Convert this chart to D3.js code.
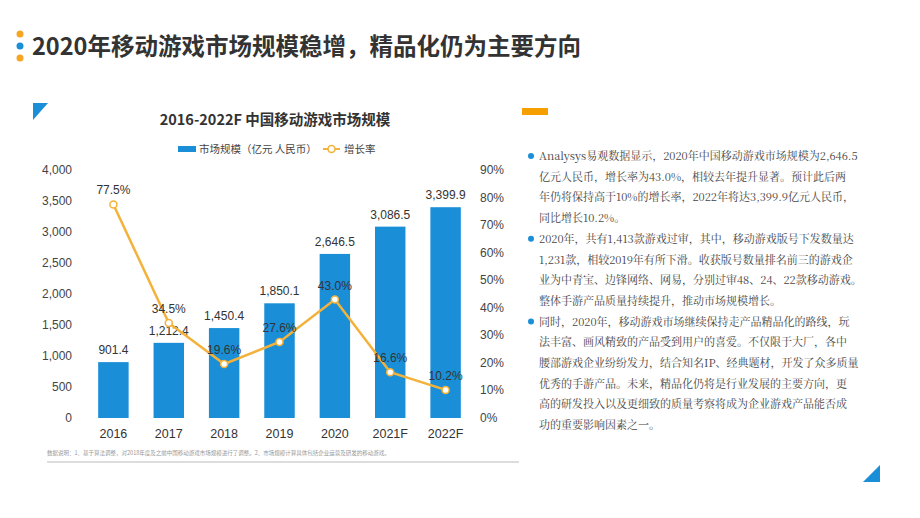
<!DOCTYPE html>
<html><head><meta charset="utf-8">
<script src="https://cdn.jsdelivr.net/npm/d3@7"></script>
<style>body{margin:0;background:#fff;}svg{display:block;font-family:"Noto Sans CJK SC","Noto Sans",sans-serif;}</style>
</head><body><svg id="c" width="920" height="518"></svg>
<script>
const categories=["2016","2017","2018","2019","2020","2021F","2022F"];
const marketSize=[901.4,1212.4,1450.4,1850.1,2646.5,3086.5,3399.9];
const growthRate=[77.5,34.5,19.6,27.6,43.0,16.6,10.2];
const leftTicks=[0,500,1000,1500,2000,2500,3000,3500,4000];
const rightTicks=[0,10,20,30,40,50,60,70,80,90];
const paragraphs=[
["Analysys易观数据显示，2020年中国移动游戏市场规模为2,646.5","亿元人民币，增长率为43.0%，相较去年提升显著。预计此后两","年仍将保持高于10%的增长率，2022年将达3,399.9亿元人民币，","同比增长10.2%。"],
["2020年，共有1,413款游戏过审，其中，移动游戏版号下发数量达","1,231款，相较2019年有所下滑。收获版号数量排名前三的游戏企","业为中青宝、边锋网络、网易，分别过审48、24、22款移动游戏。","整体手游产品质量持续提升，推动市场规模增长。"],
["同时，2020年，移动游戏市场继续保持走产品精品化的路线，玩","法丰富、画风精致的产品受到用户的喜爱。不仅限于大厂，各中","腰部游戏企业纷纷发力，结合知名IP、经典题材，开发了众多质量","优秀的手游产品。未来，精品化仍将是行业发展的主要方向，更","高的研发投入以及更细致的质量考察将成为企业游戏产品能否成","功的重要影响因素之一。"]];
const svg=d3.select("#c");
const blue="#1a8fd8", orange="#f3b23a";
[[20,34,"#f5a623"],[20,46,"#1a8fd8"],[20,58,"#f5a623"]].forEach(d=>svg.append("circle").attr("cx",d[0]).attr("cy",d[1]).attr("r",3.5).attr("fill",d[2]));
svg.append("text").attr("x",32).attr("y",55).attr("font-size",23.5).attr("font-weight",700).attr("fill","#333").text("2020年移动游戏市场规模稳增，精品化仍为主要方向");
svg.append("path").attr("d","M33,103 L48,103 L33,120Z").attr("fill",blue);
svg.append("rect").attr("x",522).attr("y",108).attr("width",26).attr("height",7).attr("fill","#f5a000");
svg.append("path").attr("d","M863,482 L880,482 L880,465Z").attr("fill",blue);
svg.append("text").attr("x",275).attr("y",125).attr("text-anchor","middle").attr("font-size",14.5).attr("font-weight",700).attr("fill","#333").text("2016-2022F 中国移动游戏市场规模");
svg.append("rect").attr("x",178).attr("y",146).attr("width",18).attr("height",6).attr("fill",blue);
svg.append("text").attr("x",199).attr("y",153).attr("font-size",10.5).attr("fill","#444").text("市场规模（亿元 人民币）");
svg.append("line").attr("x1",323).attr("x2",340).attr("y1",149).attr("y2",149).attr("stroke",orange).attr("stroke-width",2);
svg.append("circle").attr("cx",331.5).attr("cy",149).attr("r",3.5).attr("fill","#fff").attr("stroke",orange).attr("stroke-width",1.5);
svg.append("text").attr("x",344).attr("y",153).attr("font-size",10.5).attr("fill","#444").text("增长率");
const x=d3.scaleBand().domain(categories).range([86,473]).paddingInner(0.45).paddingOuter(0.22);
const y=d3.scaleLinear().domain([0,4000]).range([418,170]);
const y2=d3.scaleLinear().domain([0,90]).range([418,170]);
const font="Liberation Sans, Arial, sans-serif";
svg.append("g").selectAll("text").data(leftTicks).join("text").attr("x",72).attr("y",d=>y(d)+4).attr("text-anchor","end").attr("font-size",12).attr("font-family",font).attr("fill","#444").text(d=>d3.format(",")(d));
svg.append("g").selectAll("text").data(rightTicks).join("text").attr("x",480).attr("y",d=>y2(d)+4).attr("font-size",12).attr("font-family",font).attr("fill","#444").text(d=>d+"%");
svg.append("g").selectAll("rect").data(marketSize).join("rect").attr("x",(d,i)=>x(categories[i])).attr("width",x.bandwidth()).attr("y",d=>y(d)).attr("height",d=>418-y(d)).attr("fill",blue);
svg.append("g").selectAll("text").data(marketSize).join("text").attr("x",(d,i)=>x(categories[i])+x.bandwidth()/2).attr("y",d=>y(d)-8).attr("text-anchor","middle").attr("font-size",12).attr("font-family",font).attr("fill","#333").text(d=>d3.format(",.1f")(d));
svg.append("g").selectAll("text").data(categories).join("text").attr("x",d=>x(d)+x.bandwidth()/2).attr("y",438).attr("text-anchor","middle").attr("font-size",12.5).attr("font-family",font).attr("fill","#333").text(d=>d);
const cx=i=>x(categories[i])+x.bandwidth()/2;
svg.append("path").datum(growthRate).attr("d",d3.line().x((d,i)=>cx(i)).y(d=>y2(d))).attr("fill","none").attr("stroke",orange).attr("stroke-width",2.5);
svg.append("g").selectAll("circle").data(growthRate).join("circle").attr("cx",(d,i)=>cx(i)).attr("cy",d=>y2(d)).attr("r",3.5).attr("fill","#fff").attr("stroke",orange).attr("stroke-width",1.5);
svg.append("g").selectAll("text").data(growthRate).join("text").attr("x",(d,i)=>cx(i)).attr("y",d=>y2(d)-10).attr("text-anchor","middle").attr("font-size",12).attr("font-family",font).attr("fill","#333").text(d=>d.toFixed(1)+"%");
svg.append("text").attr("x",47).attr("y",455).attr("font-size",5.5).attr("fill","#999").text("数据说明：1、基于算法调整，对2018年度及之前中国移动游戏市场规模进行了调整。2、市场规模计算具体包括企业运营及研发的移动游戏。");
svg.append("line").attr("x1",47).attr("x2",519).attr("y1",462).attr("y2",462).attr("stroke","#bbb");
let yy=160;
paragraphs.forEach(p=>{
  svg.append("circle").attr("cx",531).attr("cy",yy-4).attr("r",3).attr("fill",blue);
  p.forEach(l=>{svg.append("text").attr("x",539).attr("y",yy).attr("font-size",11).attr("font-family","Noto Serif CJK SC, Noto Sans CJK SC, serif").attr("fill","#444").text(l);yy+=20.7;});
});
</script></body></html>
